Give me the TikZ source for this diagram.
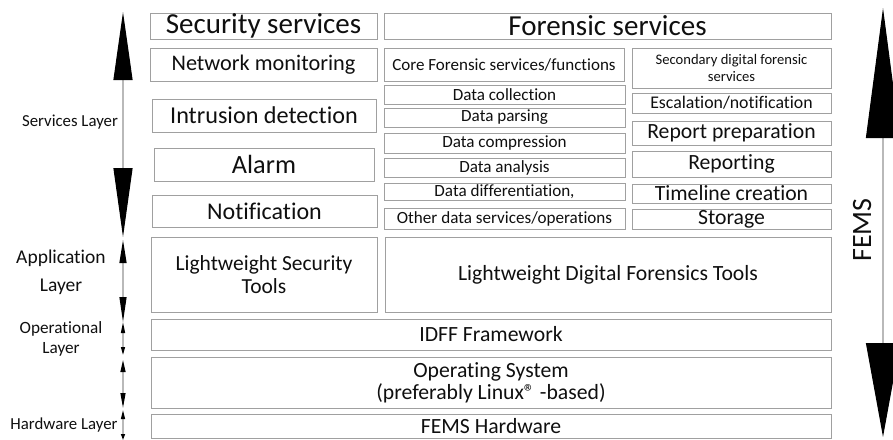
\documentclass[tikz,border=0pt]{standalone}
\usepackage{fontspec}
\setmainfont{Carlito}[Ligatures=NoCommon]
\usetikzlibrary{arrows.meta}
\definecolor{boxgray}{RGB}{160,160,160}
\definecolor{shaftgray}{RGB}{185,185,185}
\definecolor{ink}{RGB}{15,15,15}
\tikzset{
  box/.style={draw=boxgray, line width=0.9pt, inner sep=0pt, outer sep=0pt, align=center, text=ink},
  layerlabel/.style={inner sep=0pt, align=center, text=ink},
  layerarrow/.style={draw=shaftgray, line width=1.2pt},
}
\newcommand\bx[8]{\node[box, minimum width={#4-#2}, minimum height={#5-#3}, font=\fontsize{#6}{#7}\selectfont] (#1) at ({(#2+#4)/2},{(#3+#5)/2}) {#8};}
\begin{document}
\begin{tikzpicture}[x=1pt,y=-1pt]
\useasboundingbox (0,0) rectangle (893,439);
% top headers
\bx{sec}{150}{13}{377}{39}{29}{33}{Security services}
\bx{for}{384}{13}{831}{39}{29}{33}{Forensic services}
% security column
\bx{net}{150}{48}{377}{81}{22.3}{26}{Network monitoring}
\bx{ids}{152}{99}{376}{132}{24.2}{28}{Intrusion detection}
\bx{alarm}{154}{148}{374}{181}{26.3}{30}{Alarm}
\bx{notif}{152}{195}{377}{227}{24}{28}{Notification}
% core forensic column
\bx{core}{384}{48}{624}{81}{17}{20}{Core Forensic services/functions}
\bx{dcol}{384}{85}{625}{104}{17.1}{20}{Data collection}
\bx{dpar}{384}{108}{625}{127}{17.1}{20}{Data parsing}
\bx{dcomp}{384}{133}{625}{153}{17.1}{20}{Data compression}
\bx{dana}{384}{158}{625}{177}{17.1}{20}{Data analysis}
\bx{ddiff}{384}{183}{625}{200}{17.1}{20}{Data differentiation,}
\bx{doth}{384}{208}{625}{229}{17.1}{20}{Other data services/operations}
% secondary column
\bx{secd}{632}{48}{831}{88}{14.6}{16.7}{Secondary digital forensic\\services}
\bx{esc}{632}{93}{831}{113}{17.8}{20}{Escalation/notification}
\bx{repp}{632}{121}{831}{145}{21.7}{25}{Report preparation}
\bx{rep}{632}{151}{831}{177}{21.7}{25}{Reporting}
\bx{tline}{632}{184}{831}{203}{21.7}{25}{Timeline creation}
\bx{stor}{632}{209}{831}{229}{21.7}{25}{Storage}
% application layer
\bx{lst}{151}{237}{377}{312}{21.5}{23.3}{Lightweight Security\\Tools}
\bx{ldft}{385}{237}{831}{312}{21.7}{25}{Lightweight Digital Forensics Tools}
% operational / hardware
\bx{idff}{151}{319}{831}{350}{21.7}{25}{IDFF Framework}
\bx{os}{151}{357}{831}{408}{21.7}{21.7}{Operating System\\(preferably Linux® -based)}
\bx{hw}{151}{414}{831}{438}{21.7}{25}{FEMS Hardware}
% layer labels
\node[layerlabel, font=\fontsize{16.8}{20}\selectfont] (lserv) at (70,122) {Services Layer};
\node[layerlabel, font=\fontsize{19.5}{28}\selectfont] (lapp) at (61,272) {Application\\Layer};
\node[layerlabel, font=\fontsize{17.2}{20.5}\selectfont] (lop) at (61,339) {Operational\\Layer};
\node[layerlabel, font=\fontsize{16.8}{20}\selectfont] (lhw) at (64,425) {Hardware Layer};
\node[layerlabel, font=\fontsize{28}{32}\selectfont, rotate=90] (fems) at (862,230) {FEMS};
% left layer arrows
\coordinate (a1t) at (123,12);  \coordinate (a1b) at (123,237);
\coordinate (a2t) at (123,240); \coordinate (a2b) at (123,322);
\coordinate (a3t) at (123,322); \coordinate (a3b) at (123,355);
\coordinate (a4t) at (123,360); \coordinate (a4b) at (123,408);
\coordinate (a5t) at (123,410); \coordinate (a5b) at (123,440);
\draw[layerarrow, {Triangle[length=68pt,width=19pt,color=black]}-{Triangle[length=69pt,width=19pt,color=black]}] (a1t) -- (a1b);
\draw[layerarrow, {Triangle[length=23pt,width=7pt,color=black]}-{Triangle[length=25pt,width=7pt,color=black]}] (a2t) -- (a2b);
\draw[layerarrow, {Triangle[length=11pt,width=4pt,color=black]}-{Triangle[length=8pt,width=4pt,color=black]}] (a3t) -- (a3b);
\draw[layerarrow, {Triangle[length=12pt,width=5pt,color=black]}-{Triangle[length=15pt,width=5pt,color=black]}] (a4t) -- (a4b);
\draw[layerarrow, {Triangle[length=9pt,width=4pt,color=black]}-{Triangle[length=6pt,width=4pt,color=black]}] (a5t) -- (a5b);
% right FEMS arrow
\coordinate (ft) at (883,8); \coordinate (fb) at (883,437);
\draw[layerarrow, {Triangle[length=130pt,width=34pt,color=black]}-{Triangle[length=94pt,width=34pt,color=black]}] (ft) -- (fb);
\end{tikzpicture}
\end{document}
